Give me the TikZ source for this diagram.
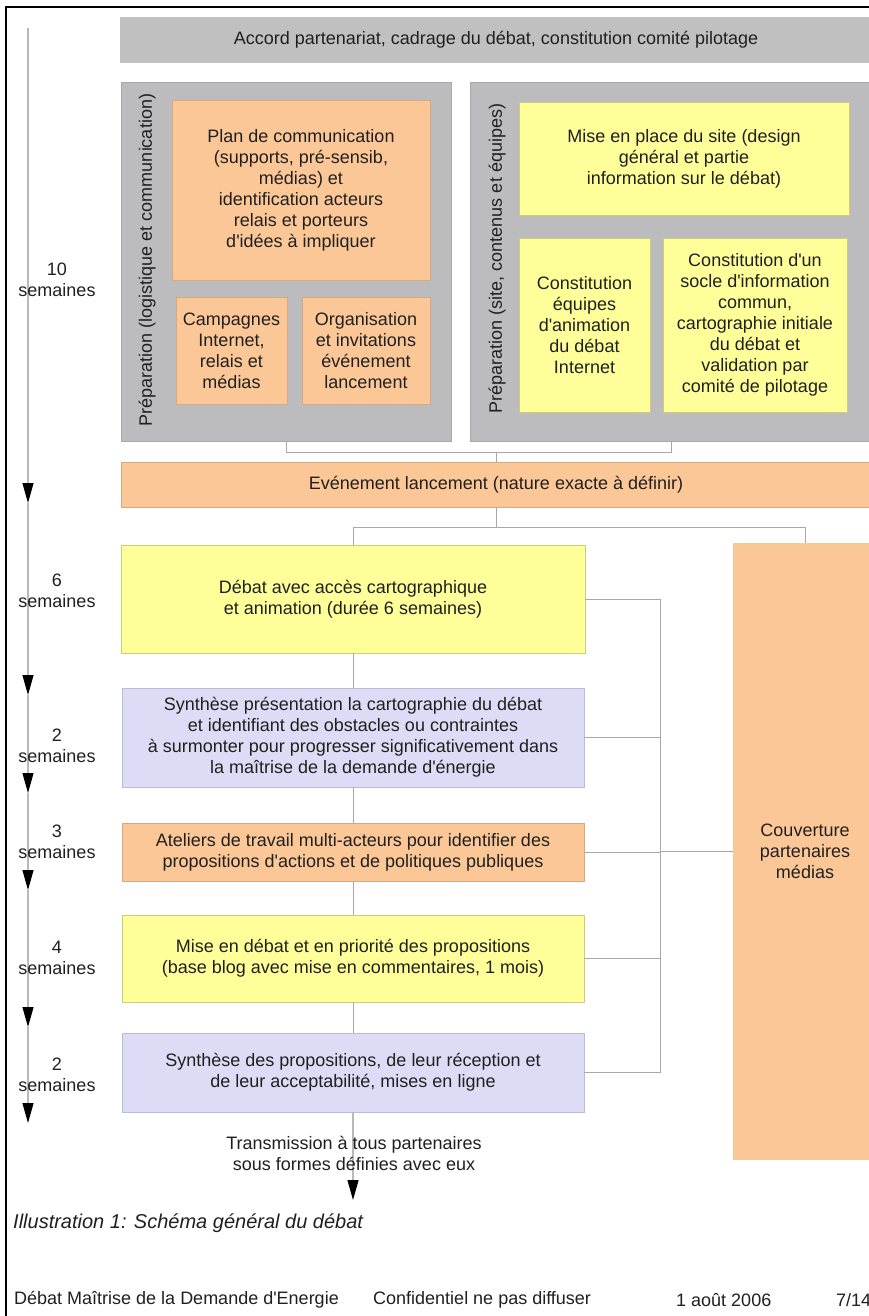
\documentclass[tikz,border=0pt]{standalone}
\usepackage{fontspec}
\setmainfont{Liberation Sans}[Ligatures=TeXOff]
\usetikzlibrary{arrows.meta}
\definecolor{barGrey}{HTML}{C0C0C0}
\definecolor{panelGrey}{HTML}{BCBCBE}
\definecolor{peach}{HTML}{FCC797}
\definecolor{paleYellow}{HTML}{FFFF99}
\definecolor{lavender}{HTML}{DCDCF6}
\definecolor{linkGrey}{HTML}{A8A8A8}
\definecolor{ink}{HTML}{202020}
\tikzstyle{txt} = [font=\fontsize{18}{21}\selectfont, text=ink, align=center]
\tikzstyle{rect} = [rectangle, txt, inner sep=0pt, outer sep=0pt, line width=0.8pt]
\tikzstyle{bar} = [rect, fill=barGrey, draw=barGrey]
\tikzstyle{panel} = [rect, fill=panelGrey, draw=panelGrey!90!black]
\tikzstyle{orange} = [rect, fill=peach, draw=peach!85!black]
\tikzstyle{yellow} = [rect, fill=paleYellow, draw=paleYellow!80!black]
\tikzstyle{blue} = [rect, fill=lavender, draw=lavender!85!black]
\tikzstyle{link} = [draw=linkGrey, line width=0.9pt]
\tikzstyle{tline} = [draw=linkGrey!80, line width=1.2pt, -{Triangle[length=20pt,width=11pt,black]}]

\begin{document}
\begin{tikzpicture}[x=1pt,y=-1pt]
        \clip (0,0) rectangle (869,1316);
        \fill[white] (0,0) rectangle (869,1316);
        \draw[black, line width=2pt] (6,1316) -- (6,7) -- (869,7);

        \node[bar, minimum width=752, minimum height=45] (accord) at (496,39.5) {Accord partenariat, cadrage du débat, constitution comité pilotage};

        \node[panel, minimum width=330, minimum height=359] (lpan) at (286,261.5) {};
        \node[panel, minimum width=402, minimum height=359] (rpan) at (671,261.5) {};
        \node[txt, rotate=90] (llab) at (147,260) {Préparation (logistique et communication)};
        \node[txt, rotate=90] (rlab) at (497,258.5) {Préparation (site, contenus et équipes)};

        \node[orange, minimum width=258, minimum height=180] (plan) at (301,190) {Plan de communication\\(supports, pré-sensib,\\médias) et\\identification acteurs\\relais et porteurs\\d'idées à impliquer};
        \node[orange, minimum width=111, minimum height=107] (camp) at (231.5,350.5) {Campagnes\\Internet,\\relais et\\médias};
        \node[orange, minimum width=128, minimum height=107] (orga) at (366,350.5) {Organisation\\et invitations\\événement\\lancement};

        \node[yellow, minimum width=330, minimum height=113] (site) at (684,158.5) {Mise en place du site (design\\général et partie\\information sur le débat)};
        \node[yellow, minimum width=131, minimum height=174] (equi) at (584.5,325) {Constitution\\équipes\\d'animation\\du débat\\Internet};
        \node[yellow, minimum width=184, minimum height=174] (socle) at (755,325) {Constitution d'un\\socle d'information\\commun,\\cartographie initiale\\du débat et\\validation par\\comité de pilotage};

        \node[orange, minimum width=750, minimum height=45] (evt) at (496,484.5) {Evénement lancement (nature exacte à définir)};

        \node[yellow, minimum width=464, minimum height=108] (deb) at (353,599) {Débat avec accès cartographique\\et animation (durée 6 semaines)};
        \node[blue, minimum width=462, minimum height=99] (syn1) at (353,737.5) {Synthèse présentation la cartographie du débat\\et identifiant des obstacles ou contraintes\\à surmonter pour progresser significativement dans\\la maîtrise de la demande d'énergie};
        \node[orange, minimum width=462, minimum height=58] (atel) at (353,852) {Ateliers de travail multi-acteurs pour identifier des\\propositions d'actions et de politiques publiques};
        \node[yellow, minimum width=462, minimum height=87] (mise) at (353,958.5) {Mise en débat et en priorité des propositions\\(base blog avec mise en commentaires, 1 mois)};
        \node[blue, minimum width=462, minimum height=79] (syn2) at (353,1072.5) {Synthèse des propositions, de leur réception et\\de leur acceptabilité, mises en ligne};
        \node[orange, draw=none, minimum width=144, minimum height=617] (couv) at (805,851.5) {Couverture\\partenaires\\médias};

        \coordinate (brk) at (0,452);
        \coordinate (split) at (496,527);
        \coordinate (bus) at (660,0);
        \draw[link] (lpan.south) -- (lpan.south |- brk) -- (rpan.south |- brk) -- (rpan.south);
        \draw[link] (evt.north |- brk) -- (evt.north);
        \draw[link] (evt.south) -- (split);
        \draw[link] (deb.north) -- (deb.north |- split) -- (couv.north |- split) -- (couv.north);
        \draw[link] (deb.south) -- (syn1.north);
        \draw[link] (syn1.south) -- (atel.north);
        \draw[link] (atel.south) -- (mise.north);
        \draw[link] (mise.south) -- (syn2.north);
        \draw[link] (deb.east) -- (deb.east -| bus) -- (syn2.east -| bus) -- (syn2.east);
        \foreach \b in {syn1,atel,mise}
        {\draw[link] (\b.east) -- (\b.east -| bus);}
        \draw[link] (couv.west -| bus) -- (couv.west);

        \coordinate (t0) at (28,28);
        \foreach \y [count=\i] in {503,695,793,890,1027,1123}
        {\coordinate (t\i) at (28,\y);}
        \foreach \i [remember=\i as \j (initially 0)] in {1,...,6}
        {\draw[tline] (t\j) -- (t\i);}

        \foreach \y/\n [count=\i] in {280/10, 591/6, 746/2, 842/3, 958/4, 1075/2}
        {\node[txt] (sem\i) at (57,\y) {\n\\semaines};}

        \coordinate (trtip) at (353,1200);
        \draw[tline] (syn2.south) -- (trtip);
        \node[txt] (trans) at (354,1153.5) {Transmission à tous partenaires\\sous formes définies avec eux};

        \node[txt, anchor=west, inner sep=0pt, font=\fontsize{20}{24}\selectfont\itshape] (cap) at (13,1223) {Illustration 1: Schéma général du débat};
        \node[txt, anchor=west, inner sep=0pt] (foot1) at (14,1300) {Débat Maîtrise de la Demande d'Energie};
        \node[txt, anchor=west, inner sep=0pt] (foot2) at (373,1300) {Confidentiel ne pas diffuser};
        \node[txt, anchor=west, inner sep=0pt] (foot3) at (676,1300) {1 août 2006};
        \node[txt, anchor=west, inner sep=0pt] (foot4) at (836,1300) {7/14};
\end{tikzpicture}
\end{document}
